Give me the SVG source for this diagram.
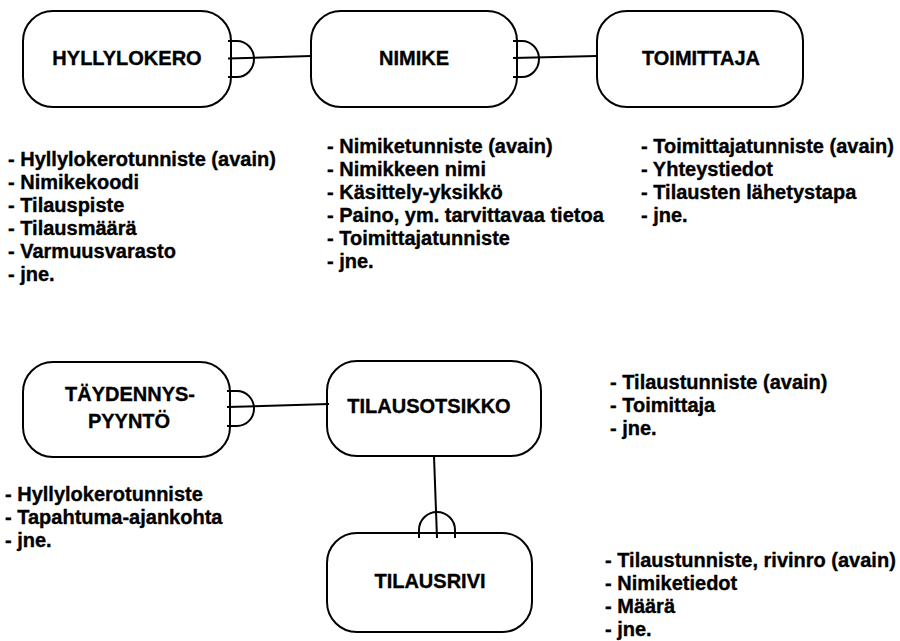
<svg xmlns="http://www.w3.org/2000/svg" width="900" height="641" viewBox="0 0 900 641">
  <style>
    .box { fill: #ffffff; stroke: #000000; stroke-width: 2; }
    .link { fill: none; stroke: #000000; stroke-width: 2; }
    .label { font-family: "Liberation Sans", Arial, sans-serif; font-weight: bold; font-size: 20px; fill: #000000; stroke: #000000; stroke-width: 0.35; text-anchor: middle; }
    .attr { font-family: "Liberation Sans", Arial, sans-serif; font-weight: bold; font-size: 20px; fill: #000000; stroke: #000000; stroke-width: 0.35; }
  </style>
  <rect width="900" height="641" fill="#ffffff"/>

  <!-- entities -->
  <g id="hyllylokero">
    <rect class="box" x="23" y="11" width="208" height="96" rx="30" ry="30"/>
    <text class="label" x="127" y="65">HYLLYLOKERO</text>
  </g>
  <g id="nimike">
    <rect class="box" x="311" y="11" width="206" height="96" rx="30" ry="30"/>
    <text class="label" x="414" y="65">NIMIKE</text>
  </g>
  <g id="toimittaja">
    <rect class="box" x="597" y="11" width="206" height="96" rx="30" ry="30"/>
    <text class="label" x="701" y="65">TOIMITTAJA</text>
  </g>
  <g id="taydennyspyynto">
    <rect class="box" x="23" y="362" width="207" height="95" rx="30" ry="30"/>
    <text class="label" x="130" y="401">TÄYDENNYS-</text>
    <text class="label" x="129" y="428">PYYNTÖ</text>
  </g>
  <g id="tilausotsikko">
    <rect class="box" x="327" y="361" width="214" height="95" rx="30" ry="30"/>
    <text class="label" x="429" y="413">TILAUSOTSIKKO</text>
  </g>
  <g id="tilausrivi">
    <rect class="box" x="327" y="533" width="205" height="99" rx="30" ry="30"/>
    <text class="label" x="430" y="588">TILAUSRIVI</text>
  </g>

  <!-- connectors: plain line to the "one" side, half-ring with three prongs at the "many" side -->
  <g id="connectors">
    <g id="hyllylokero-nimike">
      <path class="link" d="M228,58.5 L311,56"/>
      <path class="link" d="M228,41 H237 A17,18 0 0 1 237,77 H228"/>
    </g>
    <g id="nimike-toimittaja">
      <path class="link" d="M513,58 L597,56"/>
      <path class="link" d="M513,41 H522 A17,18 0 0 1 522,77 H513"/>
    </g>
    <g id="taydennyspyynto-tilausotsikko">
      <path class="link" d="M227,407 L329,404"/>
      <path class="link" d="M227,391 H237 A17,17.5 0 0 1 237,426 H227"/>
    </g>
    <g id="tilausotsikko-tilausrivi">
      <path class="link" d="M434,456 L437,538"/>
      <path class="link" d="M419,538 V530 A18,18 0 0 1 455,530 V538"/>
    </g>
  </g>

  <!-- attribute lists -->
  <g id="attrs-hyllylokero">
    <text class="attr" x="8" y="166">- Hyllylokerotunniste (avain)</text>
    <text class="attr" x="8" y="189">- Nimikekoodi</text>
    <text class="attr" x="8" y="212">- Tilauspiste</text>
    <text class="attr" x="8" y="235">- Tilausmäärä</text>
    <text class="attr" x="8" y="258">- Varmuusvarasto</text>
    <text class="attr" x="8" y="281">- jne.</text>
  </g>
  <g id="attrs-nimike">
    <text class="attr" x="327" y="152.5">- Nimiketunniste (avain)</text>
    <text class="attr" x="327" y="175.5">- Nimikkeen nimi</text>
    <text class="attr" x="327" y="198.5">- Käsittely-yksikkö</text>
    <text class="attr" x="327" y="221.5">- Paino, ym. tarvittavaa tietoa</text>
    <text class="attr" x="327" y="244.5">- Toimittajatunniste</text>
    <text class="attr" x="327" y="267.5">- jne.</text>
  </g>
  <g id="attrs-toimittaja">
    <text class="attr" x="641" y="152.5">- Toimittajatunniste (avain)</text>
    <text class="attr" x="641" y="175.5">- Yhteystiedot</text>
    <text class="attr" x="641" y="198.5">- Tilausten lähetystapa</text>
    <text class="attr" x="641" y="221.5">- jne.</text>
  </g>
  <g id="attrs-tilausotsikko">
    <text class="attr" x="610" y="388.5">- Tilaustunniste (avain)</text>
    <text class="attr" x="610" y="411.5">- Toimittaja</text>
    <text class="attr" x="610" y="434.5">- jne.</text>
  </g>
  <g id="attrs-taydennyspyynto">
    <text class="attr" x="5" y="501">- Hyllylokerotunniste</text>
    <text class="attr" x="5" y="524">- Tapahtuma-ajankohta</text>
    <text class="attr" x="5" y="547">- jne.</text>
  </g>
  <g id="attrs-tilausrivi">
    <text class="attr" x="605" y="567">- Tilaustunniste, rivinro (avain)</text>
    <text class="attr" x="605" y="590">- Nimiketiedot</text>
    <text class="attr" x="605" y="613">- Määrä</text>
    <text class="attr" x="605" y="636">- jne.</text>
  </g>
</svg>
